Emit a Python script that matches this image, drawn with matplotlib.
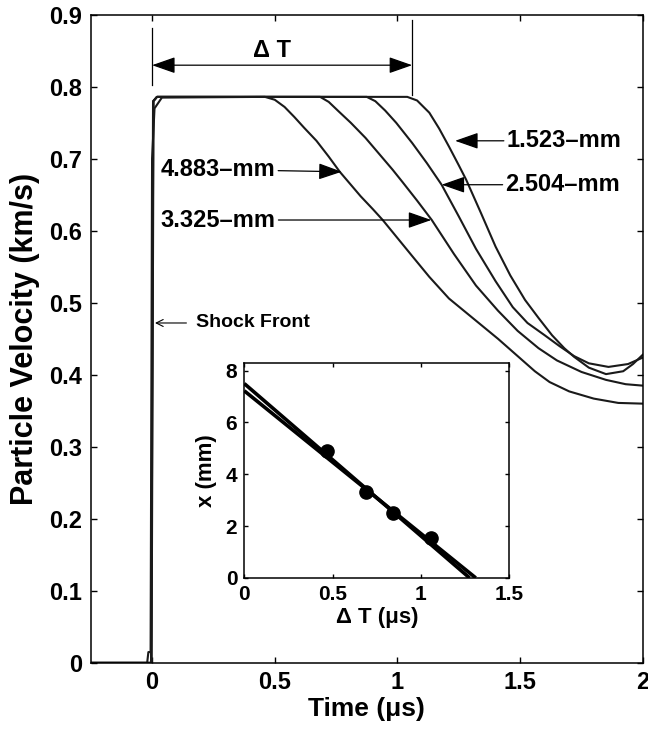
import matplotlib
matplotlib.use("Agg")
import matplotlib.pyplot as plt

plt.rcParams['font.family'] = ['Liberation Sans', 'DejaVu Sans']
plt.rcParams['font.weight'] = 'bold'
plt.rcParams['axes.labelweight'] = 'bold'

# Gauge traces: time (us) -> particle velocity (km/s)
t_4883 = [-0.25, -0.02, -0.015, -0.006, 0.0, 0.01, 0.04, 0.46, 0.50, 0.54, 0.58, 0.62,
          0.67, 0.72, 0.765, 0.81, 0.85, 0.90, 0.94, 1.00, 1.06, 1.13, 1.21, 1.31, 1.41,
          1.50, 1.56, 1.62, 1.70, 1.80, 1.90, 2.0]
v_4883 = [0.0, 0.0, 0.015, 0.015, 0.70, 0.77, 0.785, 0.786, 0.782, 0.772, 0.758, 0.743,
          0.725, 0.703, 0.682, 0.664, 0.648, 0.630, 0.615, 0.590, 0.565, 0.536, 0.506, 0.478, 0.450,
          0.423, 0.405, 0.390, 0.377, 0.367, 0.361, 0.36]

t_3325 = [-0.25, -0.004, 0.004, 0.02, 0.685, 0.72, 0.76, 0.81, 0.87, 0.93, 0.98, 1.02,
          1.08, 1.14, 1.23, 1.32, 1.41, 1.49, 1.575, 1.65, 1.75, 1.85, 1.93, 2.0]
v_3325 = [0.0, 0.0, 0.78, 0.786, 0.786, 0.779, 0.766, 0.750, 0.729, 0.705, 0.685, 0.668,
          0.642, 0.615, 0.568, 0.524, 0.489, 0.461, 0.437, 0.420, 0.404, 0.393, 0.387, 0.385]

t_2504 = [-0.25, -0.003, 0.005, 0.02, 0.875, 0.91, 0.95, 0.995, 1.06, 1.12, 1.18, 1.25,
          1.32, 1.40, 1.47, 1.53, 1.60, 1.66, 1.72, 1.78, 1.86, 1.94, 2.0]
v_2504 = [0.0, 0.0, 0.78, 0.786, 0.786, 0.780, 0.767, 0.750, 0.722, 0.694, 0.664, 0.620,
          0.575, 0.530, 0.494, 0.472, 0.455, 0.440, 0.426, 0.416, 0.411, 0.415, 0.424]

t_1523 = [-0.25, -0.002, 0.006, 0.02, 1.04, 1.08, 1.13, 1.17, 1.21, 1.25, 1.28, 1.34,
          1.40, 1.46, 1.52, 1.575, 1.63, 1.68, 1.72, 1.78, 1.85, 1.92, 1.96, 2.0]
v_1523 = [0.0, 0.0, 0.78, 0.786, 0.786, 0.781, 0.764, 0.742, 0.717, 0.691, 0.671, 0.625,
          0.578, 0.538, 0.504, 0.479, 0.455, 0.437, 0.425, 0.410, 0.401, 0.405, 0.415, 0.428]

gauge_labels = ['4.883\u2013mm', '3.325\u2013mm', '2.504\u2013mm', '1.523\u2013mm']

# Inset: plateau duration vs gauge depth, plus the two fit lines
dt_points = [0.468, 0.689, 0.839, 1.056]
x_points = [4.883, 3.325, 2.504, 1.523]
fit_dt = [[0.0, 1.275], [0.0, 1.31]]
fit_x = [[7.5, 0.0], [7.22, 0.0]]

xticks_main = [0, 0.5, 1, 1.5, 2]
xticklabels_main = ['0', '0.5', '1', '1.5', '2']
yticks_main = [0, 0.1, 0.2, 0.3, 0.4, 0.5, 0.6, 0.7, 0.8, 0.9]
xticks_inset = [0, 0.5, 1, 1.5]
xticklabels_inset = ['0', '0.5', '1', '1.5']
yticks_inset = [0, 2, 4, 6, 8]

fig = plt.figure(figsize=(6.48, 7.39), dpi=100)
ax = fig.add_axes([0.140, 0.103, 0.852, 0.877])

for t, v in [(t_4883, v_4883), (t_3325, v_3325), (t_2504, v_2504), (t_1523, v_1523)]:
    ax.plot(t, v, color='#1a1a1a', lw=1.5)

ax.set_xlim(-0.25, 2)
ax.set_ylim(0, 0.9)
ax.set_xticks(xticks_main)
ax.set_xticklabels(xticklabels_main)
ax.set_yticks(yticks_main)
ax.set_yticklabels(['0'] + ['%.1f' % y for y in yticks_main[1:]])
ax.tick_params(direction='in', top=True, right=True, length=4, width=1,
               labelsize=17, pad=6)
for s in ax.spines.values():
    s.set_linewidth(1.1)
ax.set_xlabel('Time (\u03bcs)', fontsize=19, labelpad=2)
ax.set_ylabel('Particle Velocity (km/s)', fontsize=22, labelpad=7)

# Delta T marker
ax.plot([0, 0], [0.803, 0.882], color='k', lw=0.9)
ax.plot([1.06, 1.06], [0.789, 0.893], color='k', lw=0.9)
ax.annotate('', xy=(0, 0.83), xytext=(1.06, 0.83),
            arrowprops=dict(arrowstyle='<|-|>,head_length=0.8,head_width=0.28',
                            mutation_scale=18, color='k', lw=0.9, shrinkA=0, shrinkB=0))
ax.text(0.49, 0.85, '\u0394 T', ha='center', va='center', fontsize=17)

# gauge labels with arrows
arrow_kw = dict(arrowstyle='-|>,head_length=0.8,head_width=0.28', mutation_scale=18,
                color='k', lw=0.9, shrinkA=0, shrinkB=0)
ax.annotate(gauge_labels[3], xy=(1.235, 0.725), xytext=(1.445, 0.725),
            fontsize=17, va='center', ha='left', arrowprops=arrow_kw)
ax.annotate(gauge_labels[2], xy=(1.18, 0.664), xytext=(1.44, 0.664),
            fontsize=17, va='center', ha='left', arrowprops=arrow_kw)
ax.annotate(gauge_labels[0], xy=(0.773, 0.682), xytext=(0.035, 0.685),
            fontsize=17, va='center', ha='left', arrowprops=arrow_kw)
ax.annotate(gauge_labels[1], xy=(1.138, 0.615), xytext=(0.035, 0.615),
            fontsize=17, va='center', ha='left', arrowprops=arrow_kw)
ax.annotate('', xy=(0.012, 0.472), xytext=(0.14, 0.472),
            arrowprops=dict(arrowstyle='->,head_length=0.5,head_width=0.25',
                            mutation_scale=10, color='k', lw=0.8, shrinkA=0, shrinkB=0))
ax.text(0.18, 0.472, 'Shock Front', fontsize=14, va='center', ha='left')

# inset
axi = fig.add_axes([0.377, 0.218, 0.409, 0.291])
for fx, fy in zip(fit_dt, fit_x):
    axi.plot(fx, fy, color='k', lw=2.6, solid_capstyle='butt')
axi.plot(dt_points, x_points, 'o', color='k', ms=9.5)
axi.set_xlim(0, 1.5)
axi.set_ylim(0, 8.3)
axi.set_xticks(xticks_inset)
axi.set_xticklabels(xticklabels_inset)
axi.set_yticks(yticks_inset)
axi.tick_params(direction='in', top=True, right=True, length=3, width=1,
                labelsize=15, pad=5)
for s in axi.spines.values():
    s.set_linewidth(1.1)
axi.set_xlabel('\u0394 T (\u03bcs)', fontsize=16, labelpad=2)
axi.set_ylabel('x (mm)', fontsize=16, labelpad=6)

fig.savefig('out.png', dpi=100)
